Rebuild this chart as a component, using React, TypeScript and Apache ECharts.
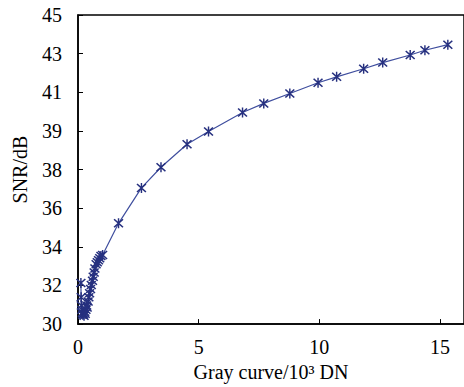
import React, { useEffect, useRef } from "react";
import * as echarts from "echarts";

const grayValues: number[] = [
  0.12, 0.13, 0.14, 0.16, 0.18, 0.2, 0.22, 0.25, 0.28, 0.3, 0.33, 0.36, 0.38, 0.42, 0.45,
  0.48, 0.52, 0.55, 0.6, 0.63, 0.67, 0.7, 0.75, 0.8, 0.85, 0.9, 0.95, 1.02,
  1.68, 2.63, 3.44, 4.52, 5.41, 6.82, 7.7, 8.78, 9.95, 10.72, 11.84, 12.63, 13.77, 14.38, 15.33,
];
const snrValues: number[] = [
  32.0, 31.3, 30.9, 30.7, 30.55, 30.45, 30.5, 30.4, 30.6, 30.5, 30.7, 30.9, 30.8, 31.1,
  31.3, 31.5, 31.7, 31.9, 32.1, 32.3, 32.5, 32.7, 32.9, 33.0, 33.1, 33.2, 33.3, 33.35,
  34.89, 36.61, 37.61, 38.73, 39.35, 40.27, 40.71, 41.19, 41.71, 42.0, 42.39, 42.69, 43.06, 43.29, 43.56,
];
const xTickLabels: string[] = ["0", "5", "10", "15"];
const xName = "Gray curve/10\u00B3 DN";
const yName = "SNR/dB";

const star =
  "path://M4.35 0H5.65V10H4.35Z M0.5 1.5L1.5 0.5L9.5 8.5L8.5 9.5Z M8.5 0.5L9.5 1.5L1.5 9.5L0.5 8.5Z";

export default function App() {
  const ref = useRef<HTMLDivElement>(null);
  useEffect(() => {
    if (!ref.current) return;
    const chart = echarts.init(ref.current, undefined, { renderer: "svg" });
    const font = { fontFamily: "Liberation Serif", fontSize: 20, color: "#000" };
    chart.setOption({
      animation: false,
      backgroundColor: "#fff",
      grid: {
        left: 78,
        right: -8,
        top: 15,
        bottom: 62,
        show: true,
        borderColor: "#000",
        borderWidth: 1.5,
        containLabel: false,
      },
      xAxis: {
        type: "value",
        min: 0,
        max: 16,
        interval: 5,
        name: xName,
        nameLocation: "middle",
        nameGap: 35,
        nameTextStyle: font,
        axisLine: { show: true, lineStyle: { color: "#000", width: 1.5 } },
        axisTick: { show: true, inside: true, length: 5, lineStyle: { color: "#000" } },
        axisLabel: {
          ...font,
          margin: 13,
          showMaxLabel: false,
          formatter: (v: number) => (xTickLabels.includes(String(v)) ? String(v) : ""),
        },
        splitLine: { show: false },
      },
      yAxis: {
        type: "value",
        min: 30,
        max: 45,
        interval: 1.875,
        name: yName,
        nameLocation: "middle",
        nameGap: 48,
        nameTextStyle: font,
        axisLine: { show: true, lineStyle: { color: "#000", width: 1.5 } },
        axisTick: { show: true, inside: true, length: 5, lineStyle: { color: "#000" } },
        axisLabel: { ...font, margin: 16, formatter: (v: number) => String(Math.round(v)) },
        splitLine: { show: false },
      },
      series: [
        {
          type: "line",
          data: grayValues.map((x, i) => [x, snrValues[i]]),
          symbol: star,
          symbolSize: 10,
          showAllSymbol: true,
          lineStyle: { color: "#3f4e9e", width: 1.2 },
          itemStyle: { color: "#26307f" },
        },
      ],
    });
    return () => chart.dispose();
  }, []);
  return (
    <div
      ref={ref}
      style={{ position: "absolute", left: 0, top: 0, width: 464, height: 387 }}
    />
  );
}
